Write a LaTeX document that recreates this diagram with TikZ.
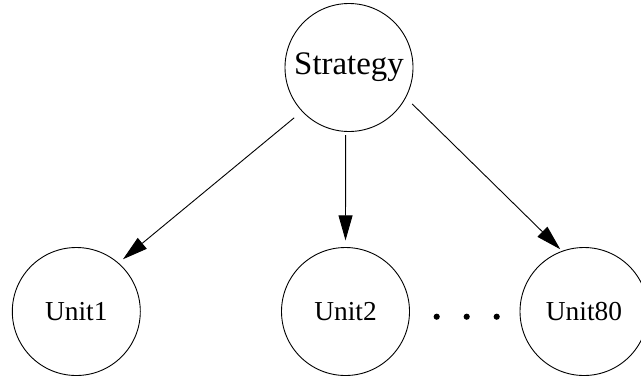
\documentclass[tikz,border=0pt]{standalone}
\usepackage{fontspec}
\setmainfont{Liberation Serif}
\usetikzlibrary{arrows.meta}
\begin{document}
\begin{tikzpicture}[x=1bp,y=-1bp,
  unitnode/.style={draw, circle, line width=0.9bp, minimum size=128bp, inner sep=0pt,
                   font=\fontsize{27.5}{30}\selectfont},
  rootnode/.style={unitnode, font=\fontsize{33}{36}\selectfont},
  edge/.style={line width=0.9bp, -{Triangle[length=25bp,width=14bp]}}]
  \useasboundingbox (0,0) rectangle (641,377);
  % the strategy node and its units
  \node[rootnode] (strategy) at (349,67.5) {Strategy};
  \node[unitnode] (unit1)  at (76.3,311.5) {Unit1};
  \node[unitnode] (unit2)  at (345.5,311.5) {Unit2};
  \node[unitnode] (unit80) at (584,311.5) {Unit80};
  % ellipsis between Unit2 and Unit80
  \foreach \x in {436.7,466.7,496.7}
    \fill (\x,316.7) circle (3.1bp);
  % edges
  \draw[edge, shorten <=10bp, shorten >=5.7bp] (strategy.223.4) -- (unit1.49.5);
  \draw[edge, shorten <=3.3bp, shorten >=6.7bp] (strategy.267.5) -- (unit2.north);
  \draw[edge, shorten <=8.8bp, shorten >=2.4bp] (strategy.332) -- (unit80.110.5);
\end{tikzpicture}
\end{document}
